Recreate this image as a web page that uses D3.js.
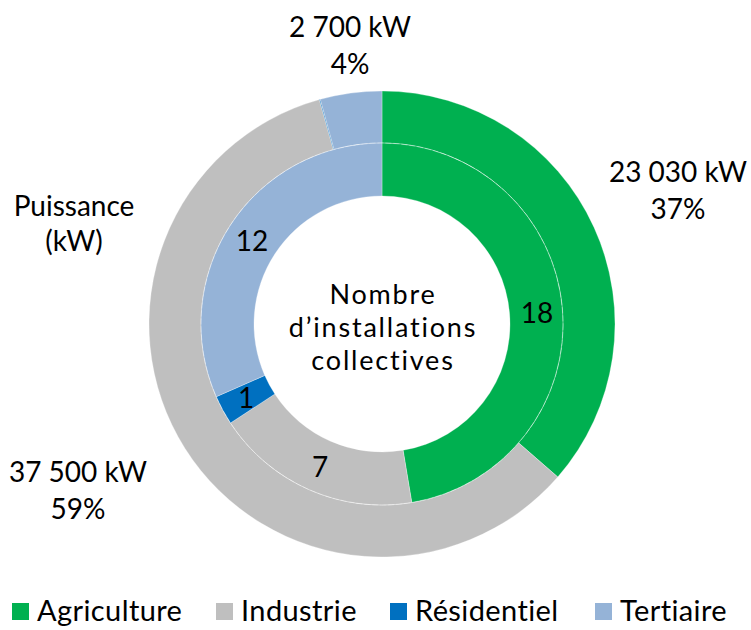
<!DOCTYPE html>
<html><head><meta charset="utf-8">
<script src="https://cdn.jsdelivr.net/npm/d3@7"></script>
<style>body{margin:0;background:#fff}svg{display:block}</style>
</head><body><svg id="c" width="751" height="630"></svg>
<script>
const categories = ["Agriculture","Industrie","Résidentiel","Tertiaire"];
const colors = ["#00B050","#BFBFBF","#0070C0","#95B3D7"];
const powerKW = [23030, 37500, 40, 2700];
const powerLabels = ["23 030 kW","37 500 kW","","2 700 kW"];
const powerPct = ["37%","59%","","4%"];
const installations = [18, 7, 1, 12];
const centerLines = ["Nombre","d’installations","collectives"];

const LABEL_FONT = "'Lato'";

const svg = d3.select("#c");
const cx = 382, cy = 324;
const g = svg.append("g").attr("transform",`translate(${cx},${cy})`);
const pie = d3.pie().sort(null).value(d=>d.v);
const mk = arr => arr.map((v,i)=>({v, i}));

const arcOuter = d3.arc().innerRadius(181).outerRadius(233);
const arcInner = d3.arc().innerRadius(128).outerRadius(181);

g.selectAll("path.o").data(pie(mk(powerKW))).join("path").attr("class","o")
  .attr("d",arcOuter).attr("fill",d=>colors[d.data.i]).attr("stroke","#fff").attr("stroke-width",0.3);
g.selectAll("path.i").data(pie(mk(installations))).join("path").attr("class","i")
  .attr("d",arcInner).attr("fill",d=>colors[d.data.i]).attr("stroke","#fff").attr("stroke-width",0.3);
g.append("circle").attr("r",181).attr("fill","none").attr("stroke","#fff").attr("stroke-width",0.6).attr("stroke-opacity",0.5).attr("stroke-dasharray","6,2");

// centre text
centerLines.forEach((s,k)=>{
  svg.append("text").attr("text-anchor","middle")
    .style("font-family",LABEL_FONT).style("font-size","27px").style("letter-spacing","1.8px")
    .attr("x",cx+1).attr("y",304+k*33).text(s);
});

// inner labels (baseline positions relative to centre)
const innerLabelPos = [[155,-1],[-62,153],[-136,84],[-130,-73]];
g.selectAll("text.il").data(pie(mk(installations))).join("text").attr("class","il")
  .attr("x",d=>innerLabelPos[d.data.i][0]).attr("y",d=>innerLabelPos[d.data.i][1])
  .attr("text-anchor","middle").style("font-family",LABEL_FONT)
  .style("font-size","28px").text(d=>d.data.v);

// outer labels
const outerPos = [[678,182],[78,482],null,[350,37]];
categories.forEach((c,i)=>{
  if(!outerPos[i]) return;
  [powerLabels[i], powerPct[i]].forEach((s,k)=>{
    svg.append("text").attr("text-anchor","middle").style("font-family",LABEL_FONT).style("font-size","28px")
      .attr("x",outerPos[i][0]).attr("y",outerPos[i][1]+k*37).text(s);
  });
});

["Puissance","(kW)"].forEach((s,k)=>{
  svg.append("text").attr("text-anchor","middle").style("font-family",LABEL_FONT).style("font-size","28px")
    .attr("x",74).attr("y",216+k*35).text(s);
});

// legend
const lx = [12,216,390,595];
const lg = svg.selectAll("g.lg").data(categories).join("g").attr("class","lg")
  .attr("transform",(d,i)=>`translate(${lx[i]},621)`);
lg.append("rect").attr("x",0).attr("y",-18).attr("width",17).attr("height",17).attr("fill",(d,i)=>colors[i]);
lg.append("text").attr("x",25).attr("y",0).style("font-family",LABEL_FONT).style("font-size","29px").style("letter-spacing","0.4px").text(d=>d);
</script></body></html>
